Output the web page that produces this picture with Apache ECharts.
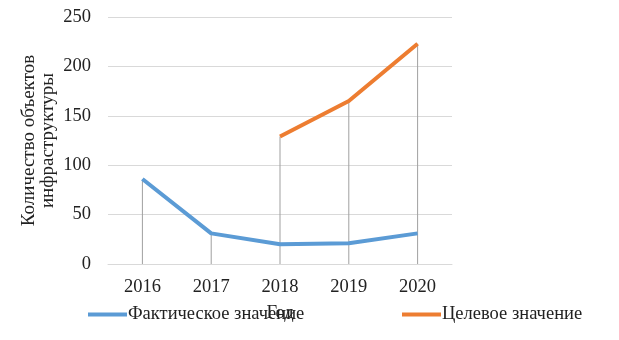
<!DOCTYPE html>
<html><head><meta charset="utf-8">
<script src="https://cdn.jsdelivr.net/npm/echarts@6/dist/echarts.min.js"></script>
<style>html,body{margin:0;padding:0;background:#fff}#c{width:619px;height:340px}</style>
</head><body><div id="c"></div>
<script>
const categories = ['2016','2017','2018','2019','2020'];
const actualValues = [86, 31, 20, 21, 31];
const targetValues = [null, null, 129, 165, 223];
const yTicks = [0, 50, 100, 150, 200, 250];
const seriesNames = ['Фактическое значение', 'Целевое значение'];
const axisNames = ['Год', 'Количество объектов\nинфраструктуры'];

const dropValues = categories.map((c, i) => Math.max(actualValues[i] ?? 0, targetValues[i] ?? 0));
const font = 'Liberation Serif';
const fs = 18.5;
const chart = echarts.init(document.getElementById('c'));
chart.setOption({
  animation: false,
  textStyle: { fontFamily: font },
  grid: { left: 108, right: 167, top: 17, bottom: 76 },
  legend: [
    { data: [seriesNames[0]], left: 88, top: 305, padding: 0, icon: 'rect', itemWidth: 39, itemHeight: 4, itemGap: 0,
      textStyle: { fontFamily: font, fontSize: fs, color: '#222', padding: [0, 0, 0, -4] } },
    { data: [seriesNames[1]], left: 402, top: 305, padding: 0, icon: 'rect', itemWidth: 39, itemHeight: 4, itemGap: 0,
      textStyle: { fontFamily: font, fontSize: fs, color: '#222', padding: [0, 0, 0, -4] } }
  ],
  xAxis: {
    type: 'category', data: categories, boundaryGap: true,
    name: axisNames[0], nameLocation: 'middle', nameGap: 40, nameMoveOverlap: false,
    nameTextStyle: { fontFamily: font, fontSize: fs, color: '#222' },
    axisLine: { lineStyle: { color: '#d9d9d9', width: 1 } },
    axisTick: { show: false },
    axisLabel: { fontFamily: font, fontSize: fs, color: '#222', margin: 14 }
  },
  yAxis: {
    type: 'value', min: yTicks[0], max: yTicks[yTicks.length - 1], interval: 50,
    name: axisNames[1], nameLocation: 'middle', nameRotate: 90, nameGap: 50, nameMoveOverlap: false,
    nameTextStyle: { fontFamily: font, fontSize: 19, color: '#222', lineHeight: 19 },
    axisLine: { show: false }, axisTick: { show: false },
    axisLabel: { fontFamily: font, fontSize: fs, color: '#222', margin: 17 },
    splitLine: { lineStyle: { color: '#d9d9d9', width: 1 } }
  },
  series: [
    { type: 'bar', name: 'drop', data: dropValues, barWidth: 1, z: 1,
      itemStyle: { color: '#a0a0a0' }, silent: true, legendHoverLink: false },
    { type: 'line', name: seriesNames[0], data: actualValues, symbol: 'none', z: 3,
      lineStyle: { color: '#5b9bd5', width: 4 }, itemStyle: { color: '#5b9bd5' } },
    { type: 'line', name: seriesNames[1], data: targetValues, symbol: 'none', z: 3,
      lineStyle: { color: '#ed7d31', width: 4 }, itemStyle: { color: '#ed7d31' } }
  ]
});
</script></body></html>
